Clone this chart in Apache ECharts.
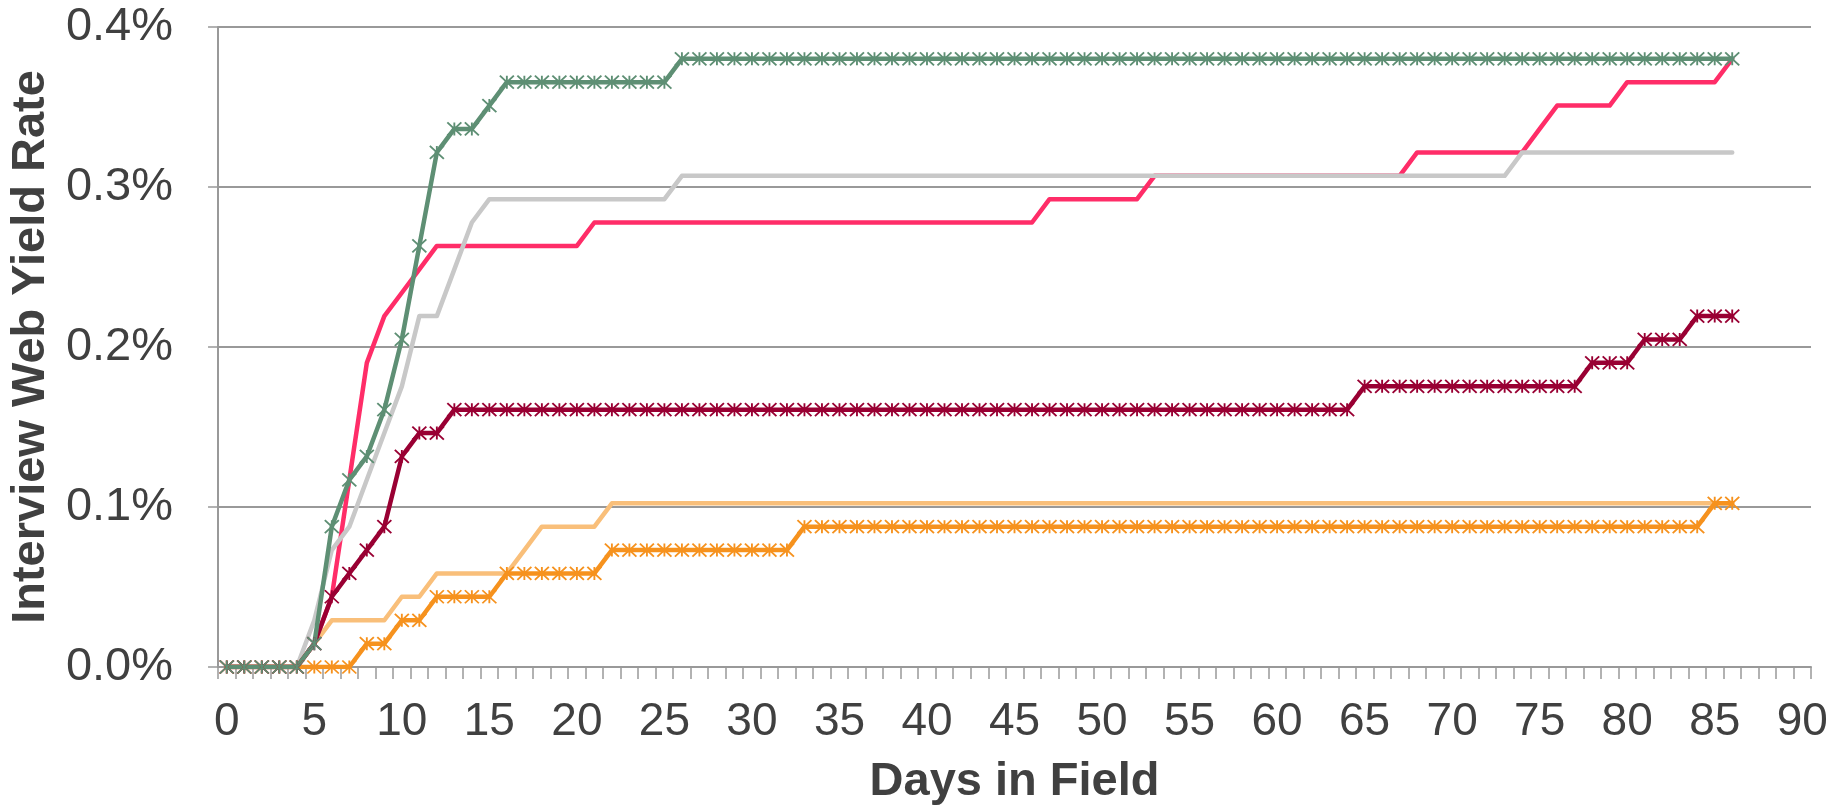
<!DOCTYPE html>
<html>
<head>
<meta charset="utf-8">
<script src="https://cdn.jsdelivr.net/npm/echarts@6/dist/echarts.min.js"></script>
<style>
html,body{margin:0;padding:0;background:#fff;}
#chart{width:1847px;height:811px;}
</style>
</head>
<body>
<div id="chart"></div>
<script>
// Days in field (category axis 0..90)
const days = [0,1,2,3,4,5,6,7,8,9,10,11,12,13,14,15,16,17,18,19,20,21,22,23,24,25,26,27,28,29,30,
  31,32,33,34,35,36,37,38,39,40,41,42,43,44,45,46,47,48,49,50,51,52,53,54,55,56,57,58,59,60,
  61,62,63,64,65,66,67,68,69,70,71,72,73,74,75,76,77,78,79,80,81,82,83,84,85,86,87,88,89,90];

// Y tick values (percent)
const yTicks = [0, 0.1, 0.2, 0.3, 0.4];

// Series values, percent, days 0..86
const greenVals = [
  0,0,0,0,0,0.0146,0.0877,0.1170,0.1316,0.1608,
  0.2047,0.2632,0.3216,0.3363,0.3363,0.3509,0.3655,0.3655,0.3655,0.3655,
  0.3655,0.3655,0.3655,0.3655,0.3655,0.3655,0.3801,0.3801,0.3801,0.3801,
  0.3801,0.3801,0.3801,0.3801,0.3801,0.3801,0.3801,0.3801,0.3801,0.3801,
  0.3801,0.3801,0.3801,0.3801,0.3801,0.3801,0.3801,0.3801,0.3801,0.3801,
  0.3801,0.3801,0.3801,0.3801,0.3801,0.3801,0.3801,0.3801,0.3801,0.3801,
  0.3801,0.3801,0.3801,0.3801,0.3801,0.3801,0.3801,0.3801,0.3801,0.3801,
  0.3801,0.3801,0.3801,0.3801,0.3801,0.3801,0.3801,0.3801,0.3801,0.3801,
  0.3801,0.3801,0.3801,0.3801,0.3801,0.3801,0.3801];

const pinkVals = [
  0,0,0,0,0,0.0146,0.0439,0.1170,0.1901,0.2193,
  0.2339,0.2485,0.2632,0.2632,0.2632,0.2632,0.2632,0.2632,0.2632,0.2632,
  0.2632,0.2778,0.2778,0.2778,0.2778,0.2778,0.2778,0.2778,0.2778,0.2778,
  0.2778,0.2778,0.2778,0.2778,0.2778,0.2778,0.2778,0.2778,0.2778,0.2778,
  0.2778,0.2778,0.2778,0.2778,0.2778,0.2778,0.2778,0.2924,0.2924,0.2924,
  0.2924,0.2924,0.2924,0.3070,0.3070,0.3070,0.3070,0.3070,0.3070,0.3070,
  0.3070,0.3070,0.3070,0.3070,0.3070,0.3070,0.3070,0.3070,0.3216,0.3216,
  0.3216,0.3216,0.3216,0.3216,0.3216,0.3363,0.3509,0.3509,0.3509,0.3509,
  0.3655,0.3655,0.3655,0.3655,0.3655,0.3655,0.3801];

const grayVals = [
  0,0,0,0,0,0.0292,0.0731,0.0877,0.1170,0.1462,
  0.1754,0.2193,0.2193,0.2485,0.2778,0.2924,0.2924,0.2924,0.2924,0.2924,
  0.2924,0.2924,0.2924,0.2924,0.2924,0.2924,0.3070,0.3070,0.3070,0.3070,
  0.3070,0.3070,0.3070,0.3070,0.3070,0.3070,0.3070,0.3070,0.3070,0.3070,
  0.3070,0.3070,0.3070,0.3070,0.3070,0.3070,0.3070,0.3070,0.3070,0.3070,
  0.3070,0.3070,0.3070,0.3070,0.3070,0.3070,0.3070,0.3070,0.3070,0.3070,
  0.3070,0.3070,0.3070,0.3070,0.3070,0.3070,0.3070,0.3070,0.3070,0.3070,
  0.3070,0.3070,0.3070,0.3070,0.3216,0.3216,0.3216,0.3216,0.3216,0.3216,
  0.3216,0.3216,0.3216,0.3216,0.3216,0.3216,0.3216];

const darkRedVals = [
  0,0,0,0,0,0.0146,0.0439,0.0585,0.0731,0.0877,
  0.1316,0.1462,0.1462,0.1608,0.1608,0.1608,0.1608,0.1608,0.1608,0.1608,
  0.1608,0.1608,0.1608,0.1608,0.1608,0.1608,0.1608,0.1608,0.1608,0.1608,
  0.1608,0.1608,0.1608,0.1608,0.1608,0.1608,0.1608,0.1608,0.1608,0.1608,
  0.1608,0.1608,0.1608,0.1608,0.1608,0.1608,0.1608,0.1608,0.1608,0.1608,
  0.1608,0.1608,0.1608,0.1608,0.1608,0.1608,0.1608,0.1608,0.1608,0.1608,
  0.1608,0.1608,0.1608,0.1608,0.1608,0.1754,0.1754,0.1754,0.1754,0.1754,
  0.1754,0.1754,0.1754,0.1754,0.1754,0.1754,0.1754,0.1754,0.1901,0.1901,
  0.1901,0.2047,0.2047,0.2047,0.2193,0.2193,0.2193];

const lightOrangeVals = [
  0,0,0,0,0,0.0146,0.0292,0.0292,0.0292,0.0292,
  0.0439,0.0439,0.0585,0.0585,0.0585,0.0585,0.0585,0.0731,0.0877,0.0877,
  0.0877,0.0877,0.1023,0.1023,0.1023,0.1023,0.1023,0.1023,0.1023,0.1023,
  0.1023,0.1023,0.1023,0.1023,0.1023,0.1023,0.1023,0.1023,0.1023,0.1023,
  0.1023,0.1023,0.1023,0.1023,0.1023,0.1023,0.1023,0.1023,0.1023,0.1023,
  0.1023,0.1023,0.1023,0.1023,0.1023,0.1023,0.1023,0.1023,0.1023,0.1023,
  0.1023,0.1023,0.1023,0.1023,0.1023,0.1023,0.1023,0.1023,0.1023,0.1023,
  0.1023,0.1023,0.1023,0.1023,0.1023,0.1023,0.1023,0.1023,0.1023,0.1023,
  0.1023,0.1023,0.1023,0.1023,0.1023,0.1023,0.1023];

const orangeVals = [
  0,0,0,0,0,0,0,0,0.0146,0.0146,
  0.0292,0.0292,0.0439,0.0439,0.0439,0.0439,0.0585,0.0585,0.0585,0.0585,
  0.0585,0.0585,0.0731,0.0731,0.0731,0.0731,0.0731,0.0731,0.0731,0.0731,
  0.0731,0.0731,0.0731,0.0877,0.0877,0.0877,0.0877,0.0877,0.0877,0.0877,
  0.0877,0.0877,0.0877,0.0877,0.0877,0.0877,0.0877,0.0877,0.0877,0.0877,
  0.0877,0.0877,0.0877,0.0877,0.0877,0.0877,0.0877,0.0877,0.0877,0.0877,
  0.0877,0.0877,0.0877,0.0877,0.0877,0.0877,0.0877,0.0877,0.0877,0.0877,
  0.0877,0.0877,0.0877,0.0877,0.0877,0.0877,0.0877,0.0877,0.0877,0.0877,
  0.0877,0.0877,0.0877,0.0877,0.0877,0.1023,0.1023];

const FONT = "'Liberation Sans', Arial, sans-serif";
const NARROW = "'Liberation Sans Narrow', 'Arial Narrow', 'Liberation Sans', Arial, sans-serif";
const TXT = '#404040';
const AXC = '#999999';
const STAR = 'path://M0 0L10 10M10 0L0 10M5 0L5 10';

function mkLine(name, data, color, marker) {
  const s = {
    name: name,
    type: 'line',
    data: data,
    smooth: false,
    animation: false,
    lineStyle: { color: color, width: 4.5, cap: 'round', join: 'round' },
    itemStyle: { color: color, borderColor: color, borderWidth: 1.8 },
    emphasis: { disabled: true }
  };
  if (marker) {
    s.symbol = STAR;
    s.symbolSize = [14, 13];
    s.showSymbol = true;
    s.showAllSymbol = true;
  } else {
    s.symbol = 'none';
    s.showSymbol = false;
  }
  return s;
}

const chart = echarts.init(document.getElementById('chart'), null, { renderer: 'canvas' });
chart.setOption({
  backgroundColor: '#ffffff',
  animation: false,
  grid: { left: 218, right: 36, top: 27, bottom: 143, containLabel: false },
  xAxis: {
    type: 'category',
    data: days,
    boundaryGap: true,
    name: 'Days in Field',
    nameLocation: 'middle',
    nameGap: 92,
    nameTextStyle: { fontFamily: FONT, fontWeight: 'bold', fontSize: 47, color: TXT },
    axisLine: { show: true, lineStyle: { color: AXC, width: 2 } },
    axisTick: { show: true, interval: 0, alignWithLabel: false, length: 12, lineStyle: { color: AXC, width: 1.5 } },
    axisLabel: { interval: 4, fontFamily: NARROW, fontSize: 46, color: TXT, margin: 32 },
    splitLine: { show: false }
  },
  yAxis: {
    type: 'value',
    min: yTicks[0],
    max: yTicks[yTicks.length - 1],
    interval: 0.1,
    name: 'Interview Web Yield Rate',
    nameLocation: 'middle',
    nameRotate: 90,
    nameGap: 162,
    nameTextStyle: { fontFamily: FONT, fontWeight: 'bold', fontSize: 47, color: TXT },
    axisLine: { show: true, lineStyle: { color: AXC, width: 2 } },
    axisTick: { show: true, length: 10, lineStyle: { color: AXC, width: 1.5 } },
    axisLabel: { fontFamily: FONT, fontSize: 47, color: TXT, margin: 45,
      formatter: v => v.toFixed(1) + '%' },
    splitLine: { show: true, lineStyle: { color: AXC, width: 2 } }
  },
  series: [
    mkLine('Pink', pinkVals, '#ff2d68', false),
    mkLine('Gray', grayVals, '#c8c8c8', false),
    mkLine('Light orange', lightOrangeVals, '#f9bf7a', false),
    mkLine('Orange', orangeVals, '#f6921e', true),
    mkLine('Dark red', darkRedVals, '#990033', true),
    mkLine('Green', greenVals, '#5e8f74', true)
  ]
});
</script>
</body>
</html>
